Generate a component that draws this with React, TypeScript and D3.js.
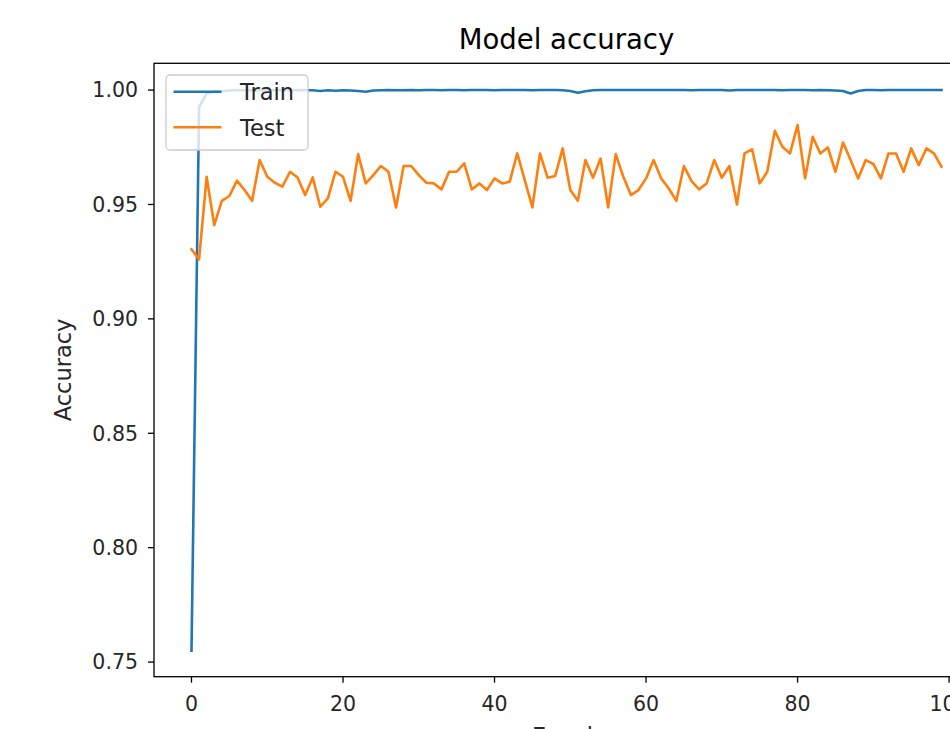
import React from 'react';
import * as d3 from 'd3';

const trainAcc: number[] = [
  0.755, 0.9925, 0.9985, 0.9993, 0.9995, 0.9998, 0.9999, 0.9999, 1.0, 0.9999,
  1.0, 0.9999, 1.0, 0.9999, 1.0, 0.9999, 0.9999, 0.9996, 0.9999, 0.9997,
  0.9999, 0.9998, 0.9996, 0.9993, 0.9998, 0.9999, 1.0, 0.9999, 0.9999, 1.0,
  0.9999, 1.0, 1.0, 0.9999, 1.0, 1.0, 0.9999, 1.0, 1.0, 1.0,
  0.9999, 1.0, 1.0, 1.0, 1.0, 0.9999, 1.0, 1.0, 1.0, 0.9999,
  0.9996, 0.9988, 0.9995, 0.9999, 1.0, 1.0, 1.0, 1.0, 1.0, 1.0,
  1.0, 1.0, 1.0, 1.0, 1.0, 1.0, 0.9999, 1.0, 1.0, 1.0,
  1.0, 0.9998, 1.0, 1.0, 1.0, 1.0, 1.0, 1.0, 0.9999, 1.0,
  1.0, 1.0, 0.9999, 1.0, 0.9999, 0.9998, 0.9996, 0.9985, 0.9996, 1.0,
  1.0, 0.9999, 1.0, 1.0, 1.0, 1.0, 1.0, 1.0, 1.0, 1.0,
];

const testAcc: number[] = [
  0.9304, 0.926, 0.9621, 0.941, 0.9516, 0.9537, 0.9604, 0.9563, 0.9516, 0.9694,
  0.9621, 0.9595, 0.9578, 0.9643, 0.9618, 0.9541, 0.9618, 0.949, 0.9527, 0.9643,
  0.9621, 0.9516, 0.972, 0.9592, 0.9628, 0.9668, 0.9643, 0.9487, 0.9668, 0.9668,
  0.9628, 0.9595, 0.9592, 0.9566, 0.9643, 0.9643, 0.968, 0.9566, 0.9592, 0.9563,
  0.9614, 0.9592, 0.9599, 0.9723, 0.9605, 0.9487, 0.9723, 0.9617, 0.9624, 0.9745,
  0.9563, 0.9516, 0.9694, 0.9617, 0.9701, 0.9487, 0.972, 0.9621, 0.9541, 0.9563,
  0.9614, 0.9694, 0.9614, 0.957, 0.9516, 0.9668, 0.9602, 0.9566, 0.9592, 0.9694,
  0.9617, 0.9668, 0.95, 0.9723, 0.9741, 0.9592, 0.9643, 0.9822, 0.9752, 0.9723,
  0.9847, 0.9614, 0.9796, 0.9723, 0.9749, 0.9643, 0.9771, 0.9694, 0.9614, 0.9694,
  0.9677, 0.9614, 0.9723, 0.9723, 0.9643, 0.9745, 0.9672, 0.9745, 0.9723, 0.9665,
];

const xTicks: number[] = [0, 20, 40, 60, 80, 100];
const yTicks: number[] = [0.75, 0.8, 0.85, 0.9, 0.95, 1.0];
const seriesNames: string[] = ['Train', 'Test'];
const seriesColors: string[] = ['#1f77b4', '#ff7f0e'];

const W = 950;
const H = 729;
const left = 154;
const right = 979;
const top = 63.3;
const bottom = 676.7;
const FONT = '"DejaVu Sans", sans-serif';
const TICK_FS = 20.5;
const LABEL_FS = 22.5;

export default function App() {
  const x = d3.scaleLinear().domain([-4.95, 103.95]).range([left, right]);
  const y = d3.scaleLinear().domain([0.7436, 1.0117]).range([bottom, top]);
  const line = d3
    .line<number>()
    .x((_, i) => x(i))
    .y((d) => y(d));
  const series = [trainAcc, testAcc];

  return (
    <div style={{ position: 'fixed', left: 0, top: 0, width: W, height: H, overflow: 'hidden', background: '#fff' }}>
      <svg width={W} height={H} viewBox={`0 0 ${W} ${H}`} style={{ display: 'block' }} fontFamily={FONT}>
        <rect x={0} y={0} width={W} height={H} fill="#fff" />
        <defs>
          <clipPath id="plotclip">
            <rect x={left} y={top} width={right - left} height={bottom - top} />
          </clipPath>
        </defs>
        <text x={(left + right) / 2} y={49} textAnchor="middle" fontSize={27.5} fill="#000">
          Model accuracy
        </text>
        <g clipPath="url(#plotclip)">
          {series.map((s, k) => (
            <path key={k} d={line(s) || ''} fill="none" stroke={seriesColors[k]} strokeWidth={2.6} strokeLinejoin="round" strokeLinecap="square" />
          ))}
        </g>
        <rect x={left} y={top} width={right - left} height={bottom - top} fill="none" stroke="#000" strokeWidth={1.3} />
        {yTicks.map((t) => (
          <g key={'y' + t}>
            <line x1={left - 6} x2={left} y1={y(t)} y2={y(t)} stroke="#000" strokeWidth={1.3} />
            <text x={left - 16} y={y(t)} dy="0.36em" textAnchor="end" fontSize={TICK_FS} fill="#262626">
              {t.toFixed(2)}
            </text>
          </g>
        ))}
        {xTicks.map((t) => (
          <g key={'x' + t}>
            <line x1={x(t)} x2={x(t)} y1={bottom} y2={bottom + 6} stroke="#000" strokeWidth={1.3} />
            <text x={x(t)} y={711} textAnchor="middle" fontSize={TICK_FS} fill="#262626">
              {t}
            </text>
          </g>
        ))}
        <text x={(left + right) / 2} y={743.5} textAnchor="middle" fontSize={LABEL_FS} fill="#262626">
          Epoch
        </text>
        <text transform={`translate(71, ${(top + bottom) / 2}) rotate(-90)`} textAnchor="middle" fontSize={LABEL_FS} fill="#262626">
          Accuracy
        </text>
        <g>
          <rect x={166} y={75} width={142} height={75} rx={4} ry={4} fill="rgba(255,255,255,0.8)" stroke="#cccccc" strokeWidth={1.3} />
          {seriesNames.map((n, k) => (
            <g key={n}>
              <line x1={173.5} x2={221.5} y1={91.7 + k * 35.6} y2={91.7 + k * 35.6} stroke={seriesColors[k]} strokeWidth={2.6} />
              <text x={240} y={91.7 + k * 35.6} dy="0.38em" fontSize={LABEL_FS} fill="#262626">
                {n}
              </text>
            </g>
          ))}
        </g>
      </svg>
    </div>
  );
}
